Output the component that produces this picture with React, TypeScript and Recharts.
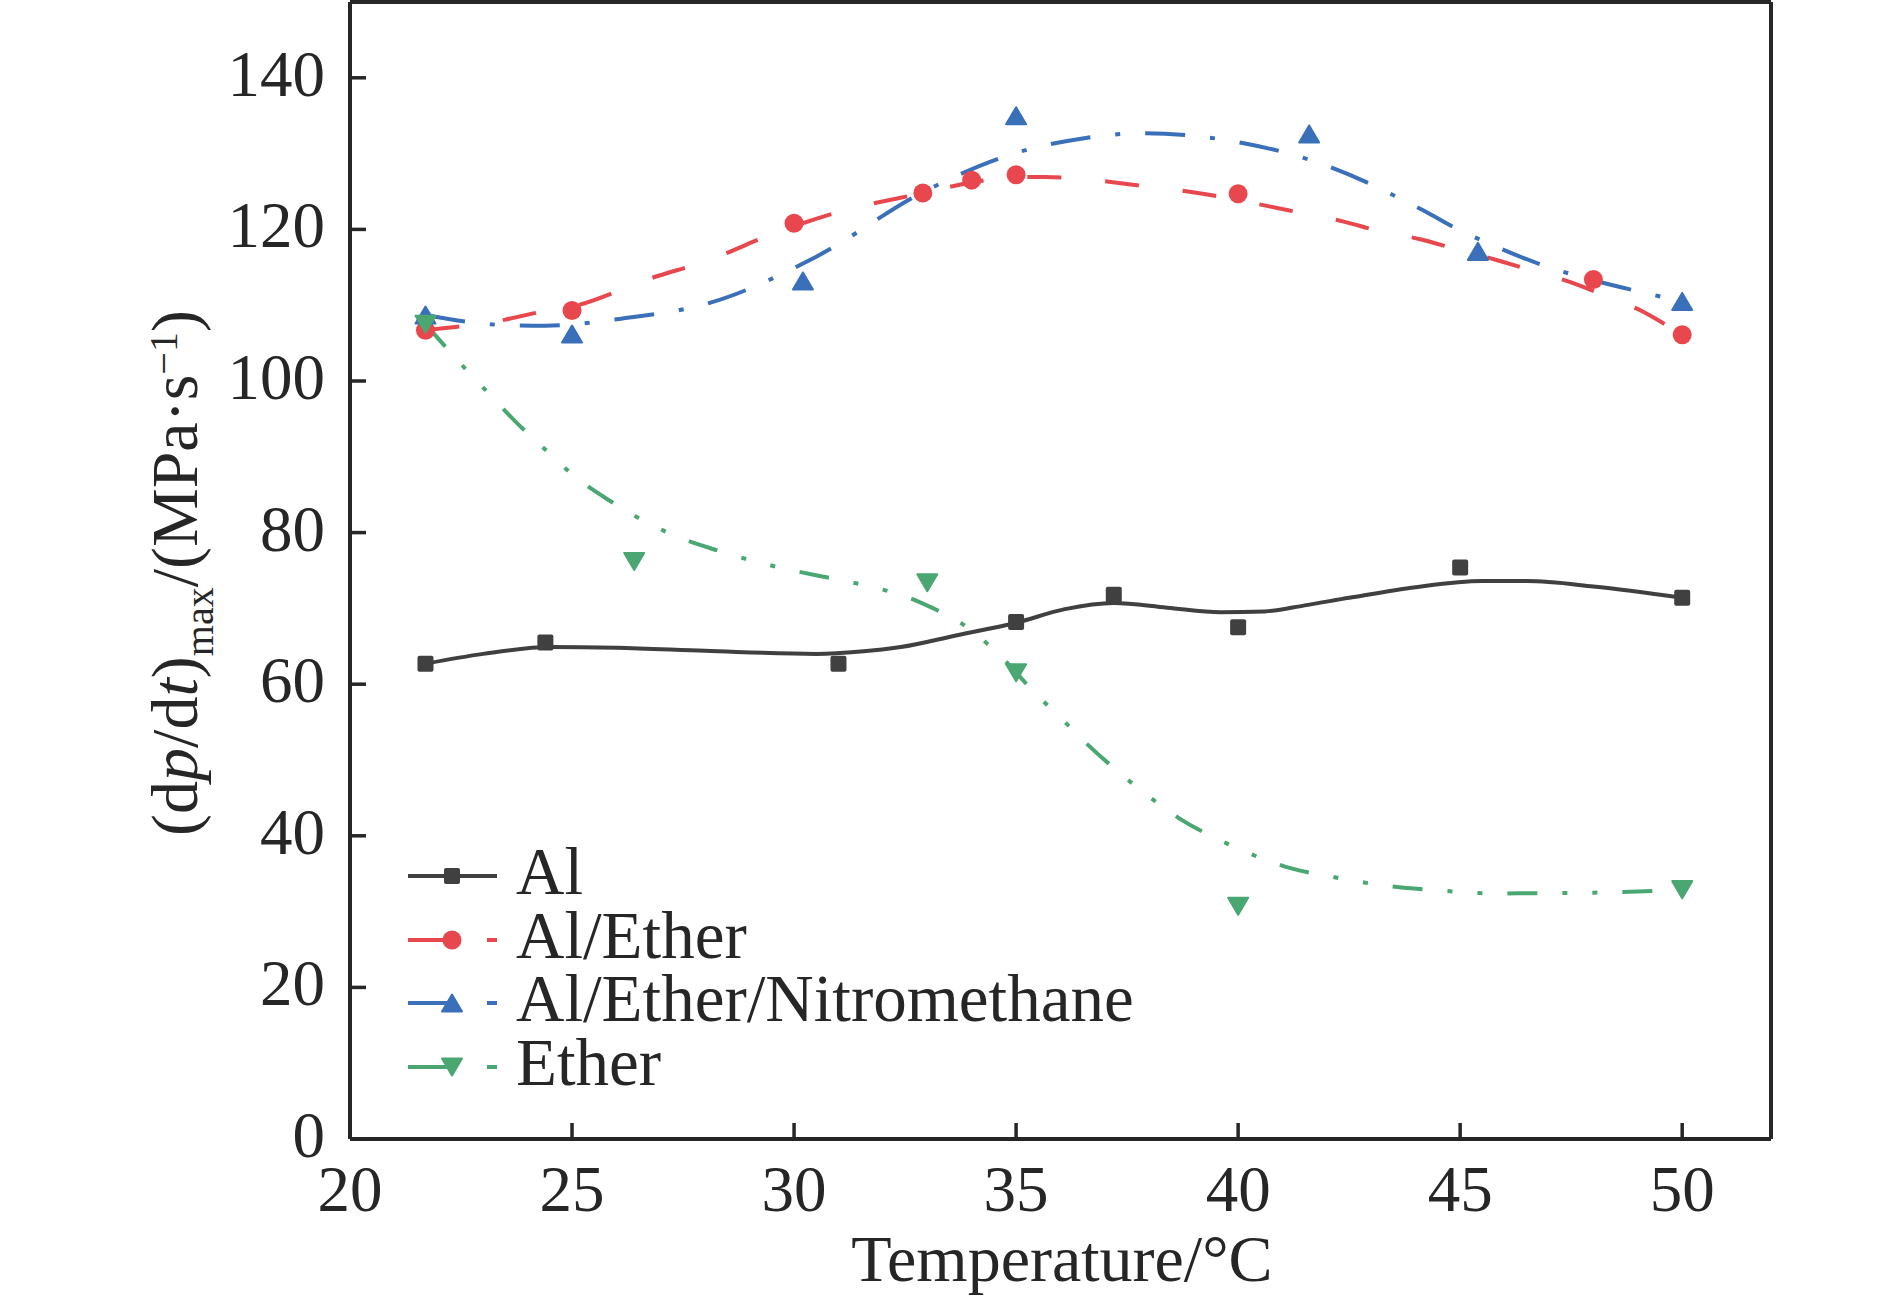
import React from 'react';
import { ComposedChart, Line, XAxis, YAxis, ReferenceLine } from 'recharts';

// measured points (temperature °C / (dp/dt)max MPa·s-1)
const alTemp = [21.7, 24.4, 31.0, 35.0, 37.2, 40.0, 45.0, 50.0];
const alRate = [62.7, 65.5, 62.7, 68.2, 71.8, 67.5, 75.4, 71.4];
const etherMixTemp = [21.7, 25.0, 30.0, 32.9, 34.0, 35.0, 40.0, 48.0, 50.0];
const etherMixRate = [106.7, 109.3, 120.8, 124.8, 126.5, 127.2, 124.7, 113.4, 106.1];
const nitroTemp = [21.7, 25.0, 30.2, 35.0, 41.6, 45.4, 50.0];
const nitroRate = [108.7, 106.2, 113.2, 135.0, 132.6, 117.1, 110.5];
const etherTemp = [21.7, 26.4, 33.0, 35.0, 40.0, 50.0];
const etherRate = [107.5, 76.2, 73.4, 61.5, 30.7, 32.9];

// fitted curves
const alFitTemp = [21.7, 23, 24.5, 26, 28, 30.5, 31.5, 32.4, 33.7, 35.0, 36.1, 37.2, 38.4, 39.6, 40.6, 41.5, 42.5, 44, 45.5, 46.5, 48, 50];
const alFitRate = [62.7, 64.0, 64.9, 64.8, 64.4, 64.0, 64.3, 64.9, 66.5, 68.1, 69.9, 70.7, 70.1, 69.5, 69.6, 70.4, 71.4, 72.8, 73.6, 73.6, 72.9, 71.4];
const etherMixFitTemp = [21.7, 23.5, 24.2, 25, 26.8, 28, 29.7, 31, 32.9, 34, 35, 35.65, 37.9, 39.2, 40.65, 41.4, 42.4, 43.1, 44.1, 44.85, 45.8, 46.55, 47.5, 48.2, 49.1, 49.75, 50];
const etherMixFitRate = [106.7, 108.1, 109.0, 109.8, 113.6, 115.8, 119.8, 122.3, 124.8, 126.2, 126.9, 126.9, 125.7, 124.7, 123.1, 122.2, 121.0, 119.9, 118.7, 117.5, 116.0, 114.7, 113.0, 111.4, 109.2, 107.0, 106.1];
const nitroFitTemp = [21.7, 23.4, 24.4, 26.2, 28.1, 30.5, 32.9, 35, 36.5, 37.9, 40.1, 41.6, 42.9, 43.7, 44.3, 44.85, 45.7, 46.9, 47.8, 49.1, 50];
const nitroFitRate = [108.7, 107.4, 107.3, 108.3, 110.3, 116.4, 124.9, 130.1, 132.0, 132.7, 131.4, 129.2, 126.2, 123.9, 122.1, 120.3, 118.0, 115.2, 113.6, 111.7, 110.5];
const etherFitTemp = [21.7, 22.6, 23.1, 23.75, 24.5, 25.0, 25.85, 26.7, 27.35, 28.3, 29.25, 29.9, 30.9, 31.85, 32.5, 33.1, 33.7, 34.2, 34.7, 35.4, 36.1, 36.6, 37.35, 38.1, 38.7, 39.6, 40.5, 41.2, 42.2, 43.1, 44.5, 45.8, 48.0, 50.0];
const etherFitRate = [107.5, 101.6, 98.5, 94.5, 90.4, 87.7, 84.2, 81.3, 79.5, 77.6, 76.0, 75.1, 73.9, 72.7, 71.6, 70.1, 68.3, 66.1, 63.4, 59.0, 55.0, 52.1, 48.2, 44.7, 42.2, 39.4, 37.1, 35.7, 34.5, 33.6, 32.8, 32.4, 32.5, 32.9];

const xTicks = [20, 25, 30, 35, 40, 45, 50];
const yTicks = [0, 20, 40, 60, 80, 100, 120, 140];
const legendNames = ['Al', 'Al/Ether', 'Al/Ether/Nitromethane', 'Ether'];

const toRows = (xs: number[], ys: number[]) => xs.map((x, i) => ({ x, y: ys[i] }));

const AXIS = '#262626';
const FONT = '"Liberation Serif", "Times New Roman", serif';
const GREY = '#404040';
const RED = '#e8474d';
const BLUE = '#3a6fb9';
const GREEN = '#4aa772';

function Marker({ kind, cx, cy, color }: { kind: string; cx: number; cy: number; color: string }) {
  if (kind === 'square') return <rect x={cx - 8} y={cy - 8} width={16} height={16} rx={2} fill={color} />;
  if (kind === 'circle') return <circle cx={cx} cy={cy} r={9.5} fill={color} />;
  if (kind === 'up')
    return (
      <polygon
        points={`${cx},${cy - 8.5} ${cx + 10},${cy + 8.5} ${cx - 10},${cy + 8.5}`}
        fill={color}
        stroke={color}
        strokeWidth={2}
        strokeLinejoin="round"
      />
    );
  return (
    <polygon
      points={`${cx - 10},${cy - 8.5} ${cx + 10},${cy - 8.5} ${cx},${cy + 8.5}`}
      fill={color}
      stroke={color}
      strokeWidth={2}
      strokeLinejoin="round"
    />
  );
}

const dotFor = (kind: string, color: string, id: string) => (p: any) =>
  <Marker key={`${id}-${p.index}`} kind={kind} cx={p.cx} cy={p.cy} color={color} />;

function YTick(props: any) {
  const { x, y, payload } = props;
  return (
    <g>
      <line x1={x} x2={x + 16} y1={y} y2={y} stroke={AXIS} strokeWidth={3.5} />
      <text x={x - 25} y={y + 18} textAnchor="end" fontFamily={FONT} fontSize={65} fill={AXIS}>
        {payload.value}
      </text>
    </g>
  );
}

function XTick(props: any) {
  const { x, y, payload } = props;
  return (
    <g>
      <line x1={x} x2={x} y1={y} y2={y - 16} stroke={AXIS} strokeWidth={3.5} />
      <text x={x} y={y + 72} textAnchor="middle" fontFamily={FONT} fontSize={65} fill={AXIS}>
        {payload.value}
      </text>
    </g>
  );
}

const series = [
  { name: legendNames[0], fit: toRows(alFitTemp, alFitRate), pts: toRows(alTemp, alRate), color: GREY, dash: undefined, kind: 'square' },
  { name: legendNames[1], fit: toRows(etherMixFitTemp, etherMixFitRate), pts: toRows(etherMixTemp, etherMixRate), color: RED, dash: '34 44', kind: 'circle' },
  { name: legendNames[2], fit: toRows(nitroFitTemp, nitroFitRate), pts: toRows(nitroTemp, nitroRate), color: BLUE, dash: '40 25 5 25', kind: 'up' },
  { name: legendNames[3], fit: toRows(etherFitTemp, etherFitRate), pts: toRows(etherTemp, etherRate), color: GREEN, dash: '30 25 5 25 5 25', kind: 'down' },
];

function LegendBox() {
  const rowY = [876, 940, 1003, 1067];
  return (
    <svg width={1890} height={1304} style={{ position: 'absolute', left: 0, top: 0, pointerEvents: 'none' }}>
      {series.map((s, i) => (
        <g key={s.name}>
          {s.dash ? (
            <>
              <line x1={408} x2={452} y1={rowY[i]} y2={rowY[i]} stroke={s.color} strokeWidth={4} />
              <line x1={487} x2={497} y1={rowY[i]} y2={rowY[i]} stroke={s.color} strokeWidth={4} />
            </>
          ) : (
            <line x1={408} x2={497} y1={rowY[i]} y2={rowY[i]} stroke={s.color} strokeWidth={4} />
          )}
          <Marker kind={s.kind} cx={452} cy={rowY[i]} color={s.color} />
          <text x={516} y={rowY[i] + 18} fontFamily={FONT} fontSize={67} fill={AXIS}>
            {s.name}
          </text>
        </g>
      ))}
    </svg>
  );
}

export default function App() {
  return (
    <div style={{ position: 'absolute', left: 0, top: 0, width: 1890, height: 1304, background: '#fff' }}>
      <ComposedChart width={1890} height={1304} margin={{ top: 2, right: 119, bottom: 0, left: 0 }}>
        <XAxis
          type="number"
          dataKey="x"
          domain={[20, 52]}
          ticks={xTicks}
          allowDataOverflow
          height={165}
          tickSize={0}
          tickMargin={0}
          tickLine={false}
          axisLine={{ stroke: AXIS, strokeWidth: 4 }}
          tick={<XTick />}
          label={{
            content: () => (
              <text x={1062} y={1281} textAnchor="middle" fontFamily={FONT} fontSize={66} fill={AXIS}>
                Temperature/°C
              </text>
            ),
          }}
        />
        <YAxis
          type="number"
          domain={[0, 150]}
          ticks={yTicks}
          allowDataOverflow
          width={350}
          tickSize={0}
          tickMargin={0}
          tickLine={false}
          axisLine={{ stroke: AXIS, strokeWidth: 4 }}
          tick={<YTick />}
          label={{
            content: () => (
              <text transform="translate(197,573) rotate(-90)" textAnchor="middle" fontFamily={FONT} fontSize={66} fill={AXIS}>
                (d<tspan fontStyle="italic">p</tspan>/d<tspan fontStyle="italic">t</tspan>)
                <tspan fontSize={40} dy={16}>max</tspan>
                <tspan dy={-16}>/(MPa·s</tspan>
                <tspan fontSize={40} dy={-20}>−1</tspan>
                <tspan dy={20}>)</tspan>
              </text>
            ),
          }}
        />
        <ReferenceLine y={150} stroke={AXIS} strokeWidth={4} ifOverflow="visible" />
        <ReferenceLine x={52} stroke={AXIS} strokeWidth={4} ifOverflow="visible" />
        {series.map((s) => [
          <Line
            key={`${s.name}-fit`}
            data={s.fit}
            dataKey="y"
            type="monotone"
            stroke={s.color}
            strokeWidth={4}
            strokeDasharray={s.dash}
            dot={false}
            activeDot={false}
            isAnimationActive={false}
          />,
          <Line
            key={`${s.name}-pts`}
            data={s.pts}
            dataKey="y"
            stroke="none"
            dot={dotFor(s.kind, s.color, s.name)}
            activeDot={false}
            isAnimationActive={false}
          />,
        ])}
      </ComposedChart>
      <LegendBox />
    </div>
  );
}
